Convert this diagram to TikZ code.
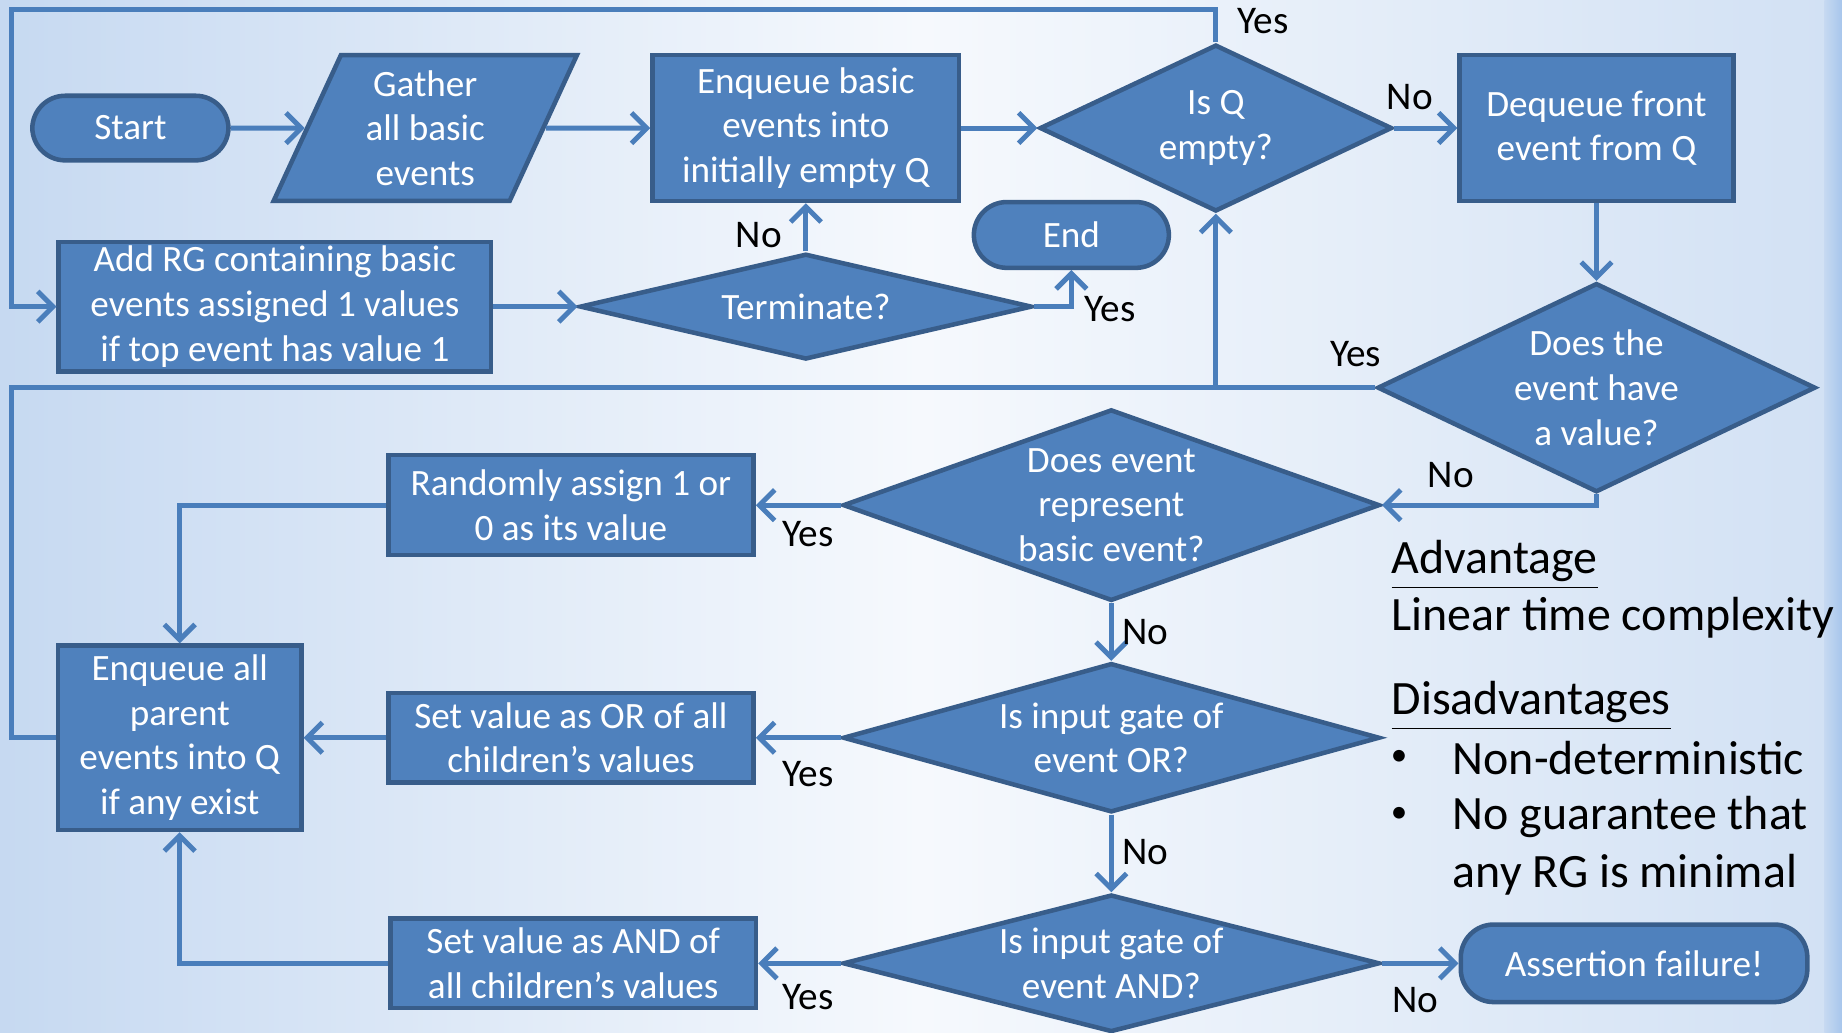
\documentclass[tikz,border=0pt]{standalone}
\usepackage{fontspec}
\setmainfont{Carlito}
\usetikzlibrary{arrows.meta, shapes.geometric}
\definecolor{flowfill}{HTML}{4F81BD}
\definecolor{flowborder}{HTML}{385D8A}
\definecolor{flowline}{HTML}{4A7EBB}
\definecolor{slideedge}{HTML}{C6D9F1}
\definecolor{slidemid}{HTML}{F6F9FD}
\definecolor{slidestrip}{HTML}{A7C6EC}

\begin{document}
\begin{tikzpicture}[
        x=0.1mm, y=-0.1mm,
        boxtext/.style={text=white, font=\fontsize{9pt}{10.8pt}\selectfont, align=center},
        stepbox/.style={
            draw=flowborder,
            line width=1.1pt,
            fill=flowfill,
            boxtext,
            inner sep=0pt
        },
        terminal/.style={stepbox, rounded corners=2.8mm},
        decision/.style={stepbox, diamond},
        inputbox/.style={
            stepbox,
            trapezium,
            trapezium left angle=67.6,
            trapezium right angle=112.4,
            trapezium stretches=true
        },
        flow/.style={-{Straight Barb[length=1.3mm, width=2.6mm]}, line width=1.2pt, flowline},
        joinline/.style={line width=1.2pt, flowline},
        answer/.style={font=\fontsize{9.5pt}{11pt}\selectfont, text=black, inner sep=0pt},
        note/.style={font=\fontsize{11.6pt}{14.2pt}\selectfont, anchor=west, inner sep=0pt},
        dot/.style={font=\fontsize{8pt}{9pt}\selectfont, inner sep=0pt}
    ]
        % slide background
        \shade[left color=slideedge, right color=slideedge!80!white, middle color=slidemid]
            (0,0) rectangle (1568,879);
        \shade[left color=slideedge, right color=slidestrip] (1553,0) rectangle (1568,879);
        \useasboundingbox (0,0) rectangle (1568,879);

        % top row
        \node[terminal, minimum width=16.7mm, minimum height=5.5mm] (start) at (111,109) {Start};
        \node[inputbox, minimum width=25.9mm, minimum height=12.4mm] (gather) at (362,109) {Gather\\all basic\\events};
        \node[stepbox, minimum width=26.1mm, minimum height=12.4mm] (enqbasic) at (686,109) {Enqueue basic\\events into\\initially empty Q};
        \node[decision, minimum width=30mm, minimum height=14.2mm, shape aspect=2.1] (isempty) at (1035,109) {Is Q\\empty?};
        \node[stepbox, minimum width=23.3mm, minimum height=12.4mm] (dequeue) at (1359,109) {Dequeue front\\event from Q};

        % second row
        \node[terminal, minimum width=16.6mm, minimum height=5.6mm] (finish) at (912,200) {End};
        \node[decision, minimum width=38.5mm, minimum height=9mm, shape aspect=4.3] (terminate) at (686,261) {Terminate?};
        \node[stepbox, minimum width=36.8mm, minimum height=11mm] (addrg) at (234,261) {Add RG containing basic\\events assigned 1 values\\if top event has value 1};
        \node[decision, minimum width=37.3mm, minimum height=17.8mm, shape aspect=2.1] (hasvalue) at (1359,330) {Does the\\event have\\a value?};

        % event handling
        \node[decision, minimum width=45.7mm, minimum height=16.3mm, shape aspect=2.8] (isbasic) at (946,430) {Does event\\represent\\basic event?};
        \node[stepbox, minimum width=31.1mm, minimum height=8.5mm] (randomly) at (486,430) {Randomly assign 1 or\\0 as its value};
        \node[stepbox, minimum width=20.7mm, minimum height=15.7mm] (enqparent) at (153,628) {Enqueue all\\parent\\events into Q\\if any exist};
        \node[stepbox, minimum width=31.1mm, minimum height=7.6mm] (setor) at (486,628) {Set value as OR of all\\children's values};
        \node[decision, minimum width=45.7mm, minimum height=12.7mm, shape aspect=3.6] (isor) at (946,628) {Is input gate of\\event OR?};
        \node[decision, minimum width=45.7mm, minimum height=11.7mm, shape aspect=3.9] (isand) at (946,820) {Is input gate of\\event AND?};
        \node[stepbox, minimum width=31.1mm, minimum height=7.6mm] (setand) at (488,820) {Set value as AND of\\all children's values};
        \node[terminal, minimum width=29.5mm, minimum height=6.6mm] (failure) at (1391,820) {Assertion failure!};

        \coordinate (topcorner) at (10,8);
        \coordinate (loopcorner) at (10,330);

        \draw[flow] (start) -- (gather);
        \draw[flow] (gather) -- (enqbasic);
        \draw[flow] (enqbasic) -- (isempty);
        \draw[flow] (isempty) -- (dequeue);
        \draw[flow] (dequeue) -- (hasvalue);
        \draw[flow] (isempty.north) |- (topcorner) |- (addrg.west);
        \draw[flow] (addrg) -- (terminate);
        \draw[flow] (terminate) -- (enqbasic);
        \draw[flow] (terminate.east) -| (finish.south);
        \draw[flow] (enqparent.west) -| (loopcorner) -| (isempty.south);
        \draw[joinline] (hasvalue.west) -- (hasvalue.west -| isempty.south);
        \draw[flow] (hasvalue.south) |- (isbasic.east);
        \draw[flow] (isbasic) -- (randomly);
        \draw[flow] (randomly.west) -| (enqparent.north);
        \draw[flow] (isbasic) -- (isor);
        \draw[flow] (isor) -- (setor);
        \draw[flow] (setor) -- (enqparent);
        \draw[flow] (isor) -- (isand);
        \draw[flow] (isand) -- (setand);
        \draw[flow] (setand.west) -| (enqparent.south);
        \draw[flow] (isand) -- (failure);

        % branch answers
        \node[answer] (yestop) at (1075,18) {Yes};
        \node[answer] (noright) at (1200,83) {No};
        \node[answer] (noup) at (646,200) {No};
        \node[answer] (yesend) at (945,263) {Yes};
        \node[answer] (yesvalue) at (1154,301) {Yes};
        \node[answer] (novalue) at (1235,404) {No};
        \node[answer] (yesbasic) at (688,455) {Yes};
        \node[answer] (nobasic) at (975,538) {No};
        \node[answer] (yesor) at (688,659) {Yes};
        \node[answer] (noor) at (975,725) {No};
        \node[answer] (yesand) at (688,849) {Yes};
        \node[answer] (noand) at (1205,851) {No};

        % remarks
        \node[note] (advhead) at (1184,481) {\underline{Advantage}};
        \node[note] (advtext) at (1184,526) {Linear time complexity};
        \node[note] (disadvhead) at (1184,601) {\underline{Disadvantages}};
        \node[dot] (bulletone) at (1191,645) {\textbullet};
        \node[note] (disadvone) at (1236,645) {Non-deterministic};
        \node[dot] (bullettwo) at (1191,694) {\textbullet};
        \node[note, align=left] (disadvtwo) at (1236,720) {No guarantee that\\any RG is minimal};
\end{tikzpicture}
\end{document}
